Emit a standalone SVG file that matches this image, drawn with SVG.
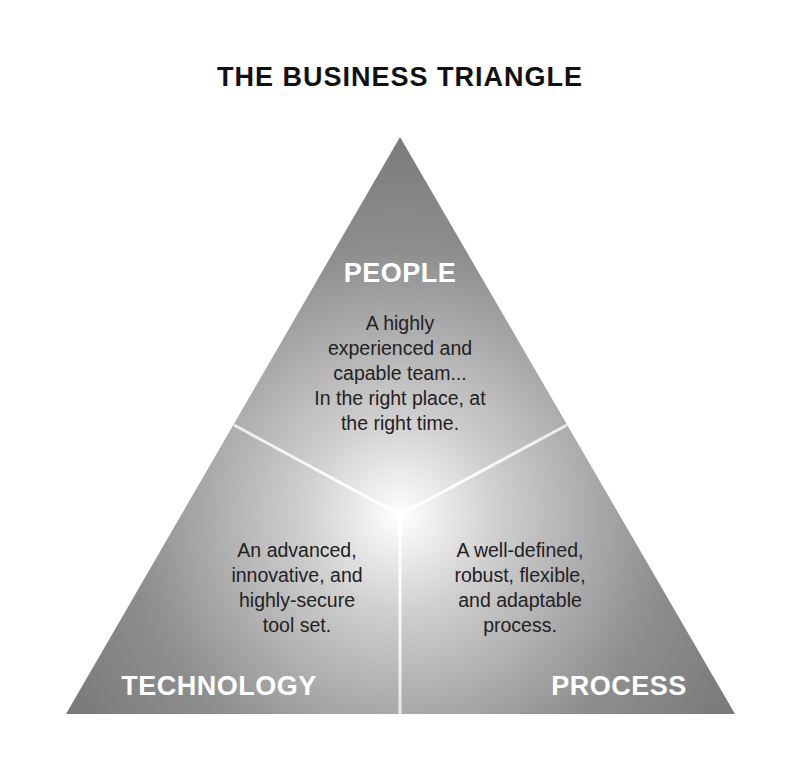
<svg xmlns="http://www.w3.org/2000/svg" width="800" height="771" viewBox="0 0 800 771">
<defs>
<radialGradient id="g" gradientUnits="userSpaceOnUse" cx="400" cy="515" r="380">
<stop offset="0" stop-color="#ffffff"/>
<stop offset="0.25" stop-color="#d0d0d0"/>
<stop offset="0.7" stop-color="#8e8e8e"/>
<stop offset="1" stop-color="#7a7a7a"/>
</radialGradient>
<radialGradient id="lg" gradientUnits="userSpaceOnUse" cx="400" cy="515" r="300">
<stop offset="0" stop-color="#ffffff" stop-opacity="1"/>
<stop offset="1" stop-color="#ffffff" stop-opacity="0.6"/>
</radialGradient>
</defs>
<style>
.t{font-family:"Liberation Sans",Arial,sans-serif;}
.h{font-weight:bold;fill:#fff;font-size:27px;text-anchor:middle;letter-spacing:0.5px;}
.b{fill:#222;font-size:19.5px;text-anchor:middle;}
</style>
<rect width="800" height="771" fill="#fff"/>
<text class="t" x="400" y="86" text-anchor="middle" font-weight="bold" font-size="27" letter-spacing="1" fill="#111">THE BUSINESS TRIANGLE</text>
<g id="triangle"><polygon points="400,137 66,714 735,714" fill="url(#g)"/></g>
<g id="connectors" stroke="url(#lg)" stroke-width="3" fill="none">
<line x1="400" y1="515" x2="234" y2="425"/>
<line x1="400" y1="515" x2="567" y2="425"/>
<line x1="400" y1="515" x2="400" y2="714"/>
</g>
<g id="people">
<text class="t h" x="400" y="282">PEOPLE</text>
<text class="t b" x="400" y="330">A highly</text>
<text class="t b" x="400" y="355">experienced and</text>
<text class="t b" x="400" y="380">capable team...</text>
<text class="t b" x="400" y="405">In the right place, at</text>
<text class="t b" x="400" y="430">the right time.</text>
</g>
<g id="technology">
<text class="t b" x="297" y="557">An advanced,</text>
<text class="t b" x="297" y="582">innovative, and</text>
<text class="t b" x="297" y="607">highly-secure</text>
<text class="t b" x="297" y="632">tool set.</text>
<text class="t h" x="219" y="695">TECHNOLOGY</text>
</g>
<g id="process">
<text class="t b" x="520" y="557">A well-defined,</text>
<text class="t b" x="520" y="582">robust, flexible,</text>
<text class="t b" x="520" y="607">and adaptable</text>
<text class="t b" x="520" y="632">process.</text>
<text class="t h" x="619" y="695">PROCESS</text>
</g>
</svg>
